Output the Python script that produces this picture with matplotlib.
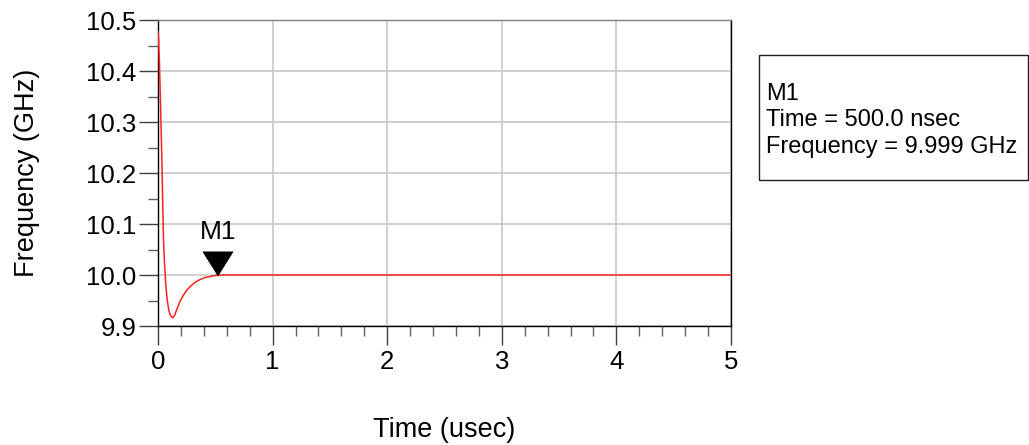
import matplotlib
matplotlib.use("Agg")
import matplotlib.pyplot as plt
from matplotlib.ticker import MultipleLocator, FormatStrFormatter
from matplotlib.patches import Rectangle

plt.rcParams['font.family'] = ['Liberation Sans', 'DejaVu Sans']

# Data (time in usec, frequency in GHz)
time_us = [0.0, 0.004, 0.011, 0.018, 0.024, 0.030, 0.036, 0.042, 0.048, 0.055,
           0.064, 0.072, 0.081, 0.095, 0.110, 0.128, 0.145, 0.165, 0.192, 0.22,
           0.25, 0.279, 0.32, 0.366, 0.41, 0.454, 0.5, 0.55, 0.6, 0.8, 1.0,
           2.0, 3.0, 4.0, 5.0]
freq_ghz = [10.477, 10.465, 10.428, 10.37, 10.317, 10.26, 10.20, 10.13, 10.07, 10.03,
            9.996, 9.97, 9.95, 9.93, 9.92, 9.916, 9.921, 9.933, 9.948, 9.960,
            9.970, 9.977, 9.985, 9.991, 9.995, 9.997, 9.999, 10.0, 10.0, 10.0, 10.0,
            10.0, 10.0, 10.0, 10.0]

marker_name = "M1"
marker_time = 0.5
marker_freq = 9.999
legend_lines = ["M1", "Time = 500.0 nsec", "Frequency = 9.999 GHz"]

x_ticks = [0, 1, 2, 3, 4, 5]
y_ticks = [9.9, 10.0, 10.1, 10.2, 10.3, 10.4, 10.5]

fig = plt.figure(figsize=(10.29, 4.45), dpi=100)
ax = fig.add_axes([158/1029, 119/445, 573/1029, 306/445])

ax.plot(time_us, freq_ghz, color='#ff2020', lw=1.1, zorder=3)

# marker triangle with tip at the point
tri = [(0.1, 0.0), (-0.525, 1.0), (0.725, 1.0)]
ax.plot([marker_time], [marker_freq], linestyle='none', marker=tri,
        markersize=36, color='black', markeredgewidth=0, zorder=4, clip_on=False)
ax.annotate(marker_name, (marker_time, marker_freq), xytext=(2, 26),
            textcoords='offset points', ha='center', va='baseline', fontsize=19)

ax.set_xlim(0, 5)
ax.set_ylim(9.9, 10.5)
ax.set_xticks(x_ticks)
ax.set_yticks(y_ticks)
ax.yaxis.set_major_formatter(FormatStrFormatter('%.1f'))
ax.xaxis.set_minor_locator(MultipleLocator(0.2))
ax.yaxis.set_minor_locator(MultipleLocator(0.05))

ax.grid(True, which='major', color='#c8c8c8', lw=1.2)
ax.set_axisbelow(True)

ax.tick_params(which='major', direction='out', length=13.5, width=1.0,
               color='#404040', labelsize=18.5)
ax.tick_params(which='minor', direction='out', length=7.2, width=1.0,
               color='#606060')
ax.tick_params(axis='x', which='major', pad=4)
ax.tick_params(axis='y', which='major', pad=2)

for s in ['left', 'bottom', 'right']:
    ax.spines[s].set_color('black')
    ax.spines[s].set_linewidth(1.0)
ax.spines['top'].set_color('#808080')
ax.spines['top'].set_linewidth(1.0)

ax.set_xlabel("Time (usec)", fontsize=19.5, labelpad=31)
ax.set_ylabel("Frequency (GHz)", fontsize=19.5, labelpad=33)

# marker readout box
x0, x1 = 759/1029, 1028/1029
y0, y1 = (445-180)/445, (445-55)/445
fig.patches.append(Rectangle((x0, y0), x1-x0, y1-y0, transform=fig.transFigure,
                             fill=False, edgecolor='#202020', lw=1.0))
baselines = [100, 126, 153]
for txt, b in zip(legend_lines, baselines):
    fig.text(766/1029, (445-b)/445, txt, fontsize=17, ha='left', va='baseline')

fig.savefig("out.png", dpi=100)
